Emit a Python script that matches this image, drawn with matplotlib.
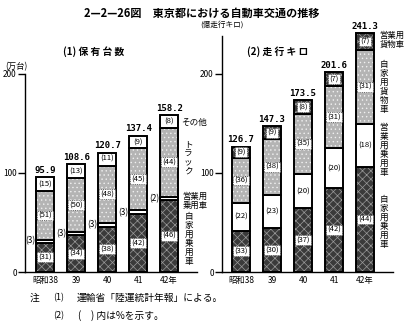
import numpy as np
import matplotlib.pyplot as plt

plt.rcParams['font.family'] = ['Noto Sans CJK JP', 'DejaVu Sans']
plt.rcParams['hatch.linewidth'] = 0.5

years = ['昭和38', '39', '40', '41', '42年']

# (1) 保有台数 (万台), shares in %
hoyu_total = [95.9, 108.6, 120.7, 137.4, 158.2]
hoyu_jikayo = [31, 34, 38, 42, 46]
hoyu_eigyo = [3, 3, 3, 3, 2]
hoyu_truck = [51, 50, 48, 45, 44]
hoyu_other = [15, 13, 11, 9, 8]

# (2) 走行キロ (億走行キロ), shares in %
soko_total = [126.7, 147.3, 173.5, 201.6, 241.3]
soko_jikayo = [33, 30, 37, 42, 44]
soko_eigyo = [22, 23, 20, 20, 18]
soko_kamotsu = [36, 38, 35, 31, 31]
soko_eigyo_kamotsu = [9, 9, 8, 7, 7]

# fill colour, hatch colour, hatch pattern
DARK = ('#3a3a3a', '#9a9a9a', 'xxxx')
LIGHT = ('#b4b4b4', '#f0f0f0', '....')
WHITE = ('white', 'white', None)

W, H = 411, 325
fig = plt.figure(figsize=(W / 100, H / 100), dpi=100)


def px(x, y):
    return x / W, 1 - y / H


def stack(ax, totals, parts, styles, outside=()):
    x = np.arange(len(totals))
    bw = 0.58
    for i, t in enumerate(totals):
        s = sum(p[i] for p in parts)
        bottom = 0
        for k, (p, st) in enumerate(zip(parts, styles)):
            h = t * p[i] / s
            fc, hc, hatch = st
            ax.bar(x[i], h, bw, bottom=bottom, facecolor=fc, edgecolor=hc,
                   hatch=hatch, linewidth=0, clip_on=False)
            ax.bar(x[i], h, bw, bottom=bottom, fill=False, edgecolor='black',
                   linewidth=1.4, clip_on=False)
            lab = f'({p[i]})'
            if k in outside:
                ax.text(x[i] - bw / 2 - 0.03, bottom + h / 2, lab, ha='right',
                        va='center', fontsize=6)
            elif st is WHITE:
                ax.text(x[i], bottom + h / 2, lab, ha='center', va='center',
                        fontsize=5.5)
            else:
                ax.text(x[i], bottom + h / 2, lab, ha='center', va='center',
                        fontsize=5.5,
                        bbox=dict(boxstyle='square,pad=0.12', fc='white',
                                  ec='#444', lw=0.6, ls=':'))
            bottom += h
        ax.text(x[i], t + 2.5, f'{t:.1f}', ha='center', va='bottom',
                fontsize=6.5, family='DejaVu Sans Mono', fontweight='bold')
    ax.set_xticks(x, years)


def style(ax, top):
    for side in ('top', 'right'):
        ax.spines[side].set_visible(False)
    ax.spines['left'].set_bounds(0, top)
    ax.spines['left'].set_linewidth(1.0)
    ax.spines['bottom'].set_linewidth(1.0)
    ax.tick_params(axis='x', length=0, labelsize=6, pad=3)
    ax.tick_params(axis='y', length=5, width=1.0, labelsize=6, pad=1)
    ax.set_yticks([0, 100, 200])
    ax.patch.set_alpha(0)


# left panel: 0 at y=272, ~0.99 px per unit
ax1 = fig.add_axes([25 / W, 53 / H, 172 / W, 200 * 0.99 / H])
stack(ax1, hoyu_total, [hoyu_jikayo, hoyu_eigyo, hoyu_truck, hoyu_other],
      [DARK, WHITE, LIGHT, WHITE], outside=(1,))
ax1.set_xlim(-0.65, 4.9)
ax1.set_ylim(0, 200)
style(ax1, 200)

# right panel
ax2 = fig.add_axes([222 / W, 53 / H, 171 / W, 245 * 0.99 / H])
stack(ax2, soko_total,
      [soko_jikayo, soko_eigyo, soko_kamotsu, soko_eigyo_kamotsu],
      [DARK, WHITE, LIGHT, DARK])
ax2.set_xlim(-0.61, 4.9)
ax2.set_ylim(0, 245)
style(ax2, 238)

fig.text(*px(202, 13), '2—2—26図　東京都における自動車交通の推移',
         ha='center', va='center', fontsize=8, fontweight='bold')
fig.text(*px(222, 25), '(億走行キロ)', ha='center', va='center', fontsize=5.5)
fig.text(*px(16, 67), '(万台)', ha='center', va='center', fontsize=6)
fig.text(*px(94, 52), '(1) 保 有 台 数', ha='center', va='center',
         fontsize=7, fontweight='bold')
fig.text(*px(278, 52), '(2) 走 行 キ ロ', ha='center', va='center',
         fontsize=7, fontweight='bold')


def vtext(x, y, s, size=6.2):
    fig.text(*px(x, y), '\n'.join(s), ha='center', va='center',
             fontsize=size, linespacing=1.0)


# series names, left panel
fig.text(*px(194, 122), 'その他', ha='center', va='center', fontsize=6.2)
vtext(188, 158, 'トラック')
fig.text(*px(195, 201), '営業用\n乗用車', ha='center', va='center',
         fontsize=6, linespacing=0.95)
vtext(189, 239, '自家用乗用車')

# series names, right panel
fig.text(*px(392, 40), '営業用\n貨物車', ha='center', va='center',
         fontsize=6, linespacing=0.95)
vtext(384, 87, '自家用貨物車')
vtext(384, 150, '営業用乗用車')
vtext(384, 222, '自家用乗用車')

# notes
fig.text(*px(30, 298), '注', ha='left', va='center', fontsize=7)
fig.text(*px(53, 298), '(1)', ha='left', va='center', fontsize=6.5)
fig.text(*px(77, 298), '運輸省「陸運統計年報」による。', ha='left', va='center',
         fontsize=7)
fig.text(*px(53, 316), '(2)', ha='left', va='center', fontsize=6.5)
fig.text(*px(78, 316), '(　) 内は%を示す。', ha='left', va='center', fontsize=7)

fig.savefig('out.png', dpi=100)
